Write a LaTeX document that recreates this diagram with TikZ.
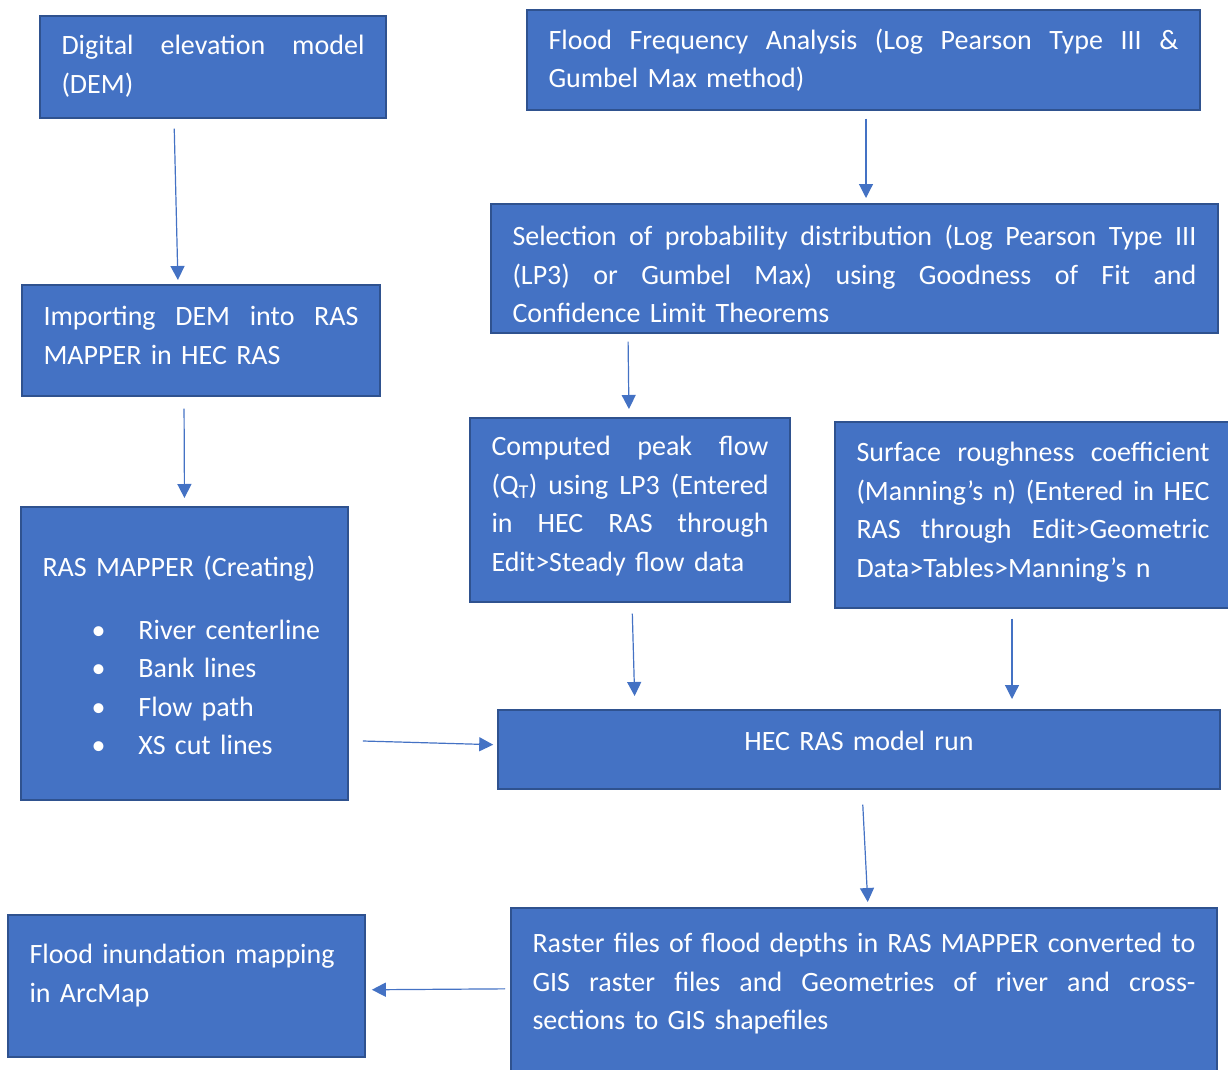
\documentclass[tikz,border=0pt]{standalone}
\usepackage{fontspec}
\setmainfont{Carlito}
\usetikzlibrary{arrows.meta}

\definecolor{boxfill}{HTML}{4472C4}
\definecolor{boxline}{HTML}{2F528F}

% one justified line, stretched to the full box width
\newcommand{\fillline}[1]{\makebox[\hsize][s]{\spaceskip=0pt\xspaceskip=0pt #1}}
\newcommand{\bulletline}[1]{\mbox{\hspace*{49pt}\makebox[47pt][l]{\textbullet}#1}}

\tikzset{
	stepnode/.style={draw=boxline, line width=1.6pt, fill=boxfill, text=white,
		rectangle, anchor=north, inner xsep=21.5pt, inner ysep=0pt, align=left,
		font=\fontsize{28}{38.5}\selectfont},
	flow/.style={draw=boxfill, line width=1.2pt, -{Triangle[length=14pt,width=14pt]}}
}

\begin{document}
\begin{tikzpicture}[x=1pt,y=-1pt]
	\useasboundingbox (0,0) rectangle (1228,1070);

	\node[stepnode, text width=303pt, text height=39pt, text depth=63pt] (dem) at (213,15)
		{\fillline{Digital elevation model}\\(DEM)};
	\node[stepnode, text width=630pt, text height=39.5pt, text depth=60.5pt] (ffa) at (863.5,9)
		{\fillline{Flood Frequency Analysis (Log Pearson Type III \&}\\\mbox{Gumbel Max method)}};
	\node[stepnode, text width=684pt, text height=42pt, text depth=87pt] (sel) at (854.5,203)
		{\fillline{Selection of probability distribution (Log Pearson Type III}\\
		 \fillline{(LP3) or Gumbel Max) using Goodness of Fit and}\\
		 \mbox{Confidence Limit Theorems}};
	\node[stepnode, text width=315pt, text height=41pt, text depth=70pt] (imp) at (201,284)
		{\fillline{Importing DEM into RAS}\\\mbox{MAPPER in HEC RAS}};
	\node[stepnode, text width=277pt, text height=38pt, text depth=146pt] (comp) at (630,417)
		{\fillline{Computed peak flow}\\
		 \fillline{(Q\textsubscript{T}) using LP3 (Entered}\\
		 \fillline{in HEC RAS through}\\
		 \mbox{Edit>Steady flow data}};
	\node[stepnode, text width=353pt, text height=40pt, text depth=146pt] (surf) at (1033,421)
		{\fillline{Surface roughness coefficient}\\
		 \fillline{(Manning’s n) (Entered in HEC}\\
		 \fillline{RAS through Edit>Geometric}\\
		 \mbox{Data>Tables>Manning’s n}};
	\node[stepnode, text width=284pt, text height=70pt, text depth=223pt] (ras) at (184.5,506)
		{\mbox{RAS MAPPER (Creating)}\\[24pt]
		 \bulletline{River centerline}\\
		 \bulletline{Bank lines}\\
		 \bulletline{Flow path}\\
		 \bulletline{XS cut lines}};
	\node[stepnode, text width=679pt, text height=41pt, text depth=38pt, align=center] (hec) at (859,709)
		{HEC RAS model run};
	\node[stepnode, text width=314pt, text height=49pt, text depth=93pt] (flood) at (186.5,914)
		{\mbox{Flood inundation mapping}\\\mbox{in ArcMap}};
	\node[stepnode, text width=663pt, text height=45pt, text depth=126pt] (rast) at (864,907)
		{\fillline{Raster files of flood depths in RAS MAPPER converted to}\\
		 \fillline{GIS raster files and Geometries of river and cross-}\\
		 \mbox{sections to GIS shapefiles}};

	\draw[flow, shorten <=10pt, shorten >=4pt] ([xshift=-39pt]dem.south) -- ([xshift=-23pt]imp.north);
	\draw[flow, shorten <=12pt, shorten >=8pt] ([xshift=-17pt]imp.south) -- (ras.north);
	\draw[flow, shorten <=8pt, shorten >=5pt] ([xshift=2.5pt]ffa.south) -- ([xshift=11.5pt]sel.north);
	\draw[flow, shorten <=8pt, shorten >=8pt] ([xshift=-226.5pt]sel.south) -- ([xshift=-1pt]comp.north);
	\draw[flow, shorten <=11pt, shorten >=13pt] ([xshift=2pt]comp.south) -- ([xshift=-224pt]hec.north);
	\draw[flow, shorten <=10pt, shorten >=10pt] ([xshift=-21pt]surf.south) -- ([xshift=153pt]hec.north);
	\draw[flow, shorten <=14pt, shorten >=4pt] ([yshift=60pt]ras.south east) -- ([yshift=4.5pt]hec.west);
	\draw[flow, shorten <=15pt, shorten >=5pt] ([xshift=3pt]hec.south) -- ([xshift=4pt]rast.north);
	\draw[flow, shorten <=5pt, shorten >=6pt] ([yshift=-3pt]rast.north west |- flood.east) -- ([yshift=-4pt]flood.east);

\end{tikzpicture}
\end{document}
